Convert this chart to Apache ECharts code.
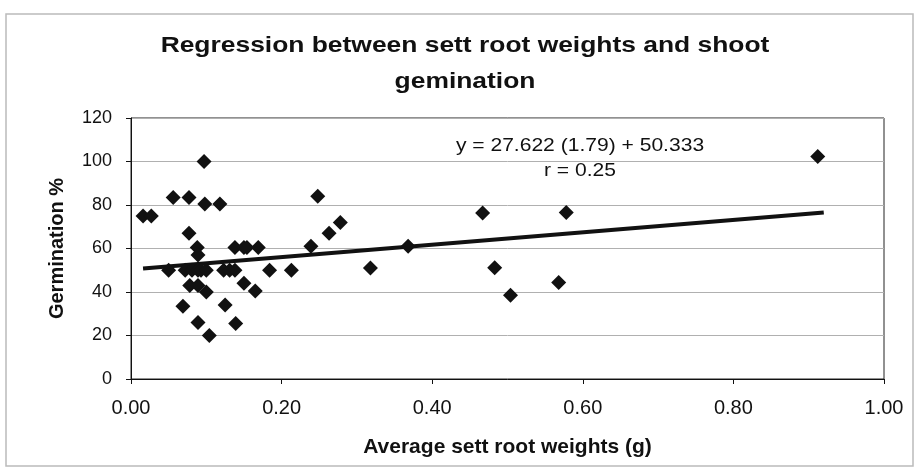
<!DOCTYPE html>
<html>
<head>
<meta charset="utf-8">
<script src="https://cdn.jsdelivr.net/npm/echarts@6/dist/echarts.min.js"></script>
<style>html,body{margin:0;padding:0;background:#fff}#c{width:915px;height:474px}</style>
</head>
<body>
<div id="c"></div>
<script>
var titleLines = ['Regression between sett root weights and shoot', 'gemination'];
var xAxisName = 'Average sett root weights (g)';
var yAxisName = 'Germination %';
var equationText = 'y = 27.622 (1.79) + 50.333';
var rText = 'r = 0.25';
var rootWeights = [0.016,0.027,0.050,0.056,0.069,0.072,0.077,0.077,0.078,0.081,0.088,0.089,0.089,0.089,0.089,0.093,0.097,0.098,0.100,0.100,0.104,0.118,0.123,0.125,0.131,0.138,0.138,0.139,0.150,0.154,0.150,0.165,0.169,0.184,0.213,0.239,0.248,0.263,0.278,0.318,0.368,0.467,0.483,0.504,0.568,0.578,0.912];
var germination = [75,75,50,83.5,33.5,50,83.5,67,43,50,60.5,57,50,43,26,50,100,80.5,50,40,20,80.5,50,34,50,60.5,50,25.5,60.5,60.5,44,40.5,60.5,50,50,61,84,67,72,51,61,76.3,51.2,38.5,44.4,76.6,102.3];
var trendX = [0.016, 0.92];
var trendY = [50.8, 76.5];

var pts = rootWeights.map(function(x,i){return [x, germination[i]];});
var trend = trendX.map(function(x,i){return [x, trendY[i]];});
var font = 'Liberation Sans, Arial, sans-serif';
var chart = echarts.init(document.getElementById('c'));
chart.setOption({
  animation:false,
  backgroundColor:'#fff',
  title:{show:false,text:titleLines.join('\n')},
  grid:{left:131,right:31,top:118,bottom:95,show:true,borderColor:'#222',borderWidth:1,backgroundColor:'#fff'},
  xAxis:{type:'value',min:0,max:1,interval:0.2,
    name:xAxisName,nameLocation:'middle',nameGap:58,
    nameTextStyle:{fontFamily:font,fontSize:21,fontWeight:'bold',color:'#111'},
    axisLine:{lineStyle:{color:'#111'}},axisTick:{length:5,lineStyle:{color:'#111'}},
    axisLabel:{fontFamily:font,fontSize:20,color:'#111',margin:19,formatter:function(v){return v.toFixed(2);}},
    splitLine:{show:false}},
  yAxis:{type:'value',min:0,max:120,interval:20,
    name:yAxisName,nameLocation:'middle',nameGap:64,
    nameTextStyle:{fontFamily:font,fontSize:20,fontWeight:'bold',color:'#111'},
    axisLine:{show:true,lineStyle:{color:'#111'}},axisTick:{show:true,length:5,lineStyle:{color:'#111'}},
    axisLabel:{fontFamily:font,fontSize:18,color:'#111',margin:19},
    splitLine:{show:true,lineStyle:{color:'#b0b0b0',width:1}}},
  series:[
    {type:'line',data:trend,symbol:'none',lineStyle:{color:'#111',width:4},z:3},
    {type:'scatter',data:pts,symbol:'diamond',symbolSize:15,itemStyle:{color:'#111',opacity:1},z:4}
  ],
  graphic:[
    {type:'rect',shape:{x:6,y:14,width:907,height:452},style:{fill:'none',stroke:'#bbb',lineWidth:1.5},z:-1},
    {type:'text',x:465,y:46,scaleX:1.2,style:{text:titleLines[0],fontFamily:font,fontSize:22,fontWeight:'bold',fill:'#111',align:'center',verticalAlign:'middle'}},
    {type:'text',x:465,y:82,scaleX:1.2,style:{text:titleLines[1],fontFamily:font,fontSize:22,fontWeight:'bold',fill:'#111',align:'center',verticalAlign:'middle'}},
    {type:'text',x:580,y:146,scaleX:1.17,style:{text:equationText,fontFamily:font,fontSize:18,fill:'#111',align:'center',verticalAlign:'middle'}},
    {type:'text',x:580,y:171,scaleX:1.17,style:{text:rText,fontFamily:font,fontSize:18,fill:'#111',align:'center',verticalAlign:'middle'}}
  ]
});
</script>
</body>
</html>
